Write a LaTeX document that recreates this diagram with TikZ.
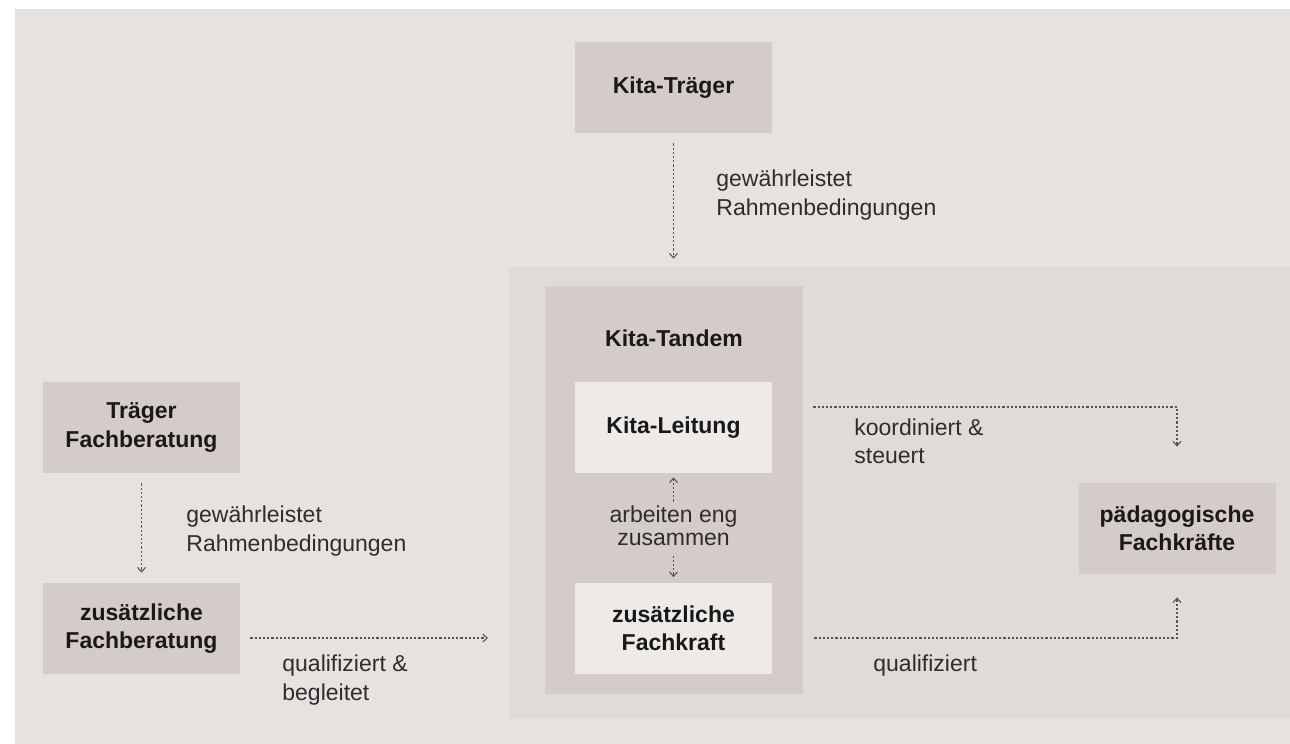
\documentclass[tikz,border=0pt]{standalone}
\usepackage{fontspec}
\setmainfont{Liberation Sans}
\usepackage{xcolor}
\usetikzlibrary{arrows.meta,positioning,calc}

\definecolor{hgHell}{RGB}{230,226,223}
\definecolor{hgMitte}{RGB}{223,219,216}
\definecolor{boxDunkel}{RGB}{213,204,202}
\definecolor{boxHell}{RGB}{237,234,232}
\definecolor{pfeilGrau}{RGB}{85,85,85}
\definecolor{textGrau}{RGB}{45,45,45}

\begin{document}
\begin{tikzpicture}[x=0.5pt,y=0.5pt,yscale=-1,xscale=1,
  fett/.style={inner sep=0pt, align=center, font=\fontsize{11.5}{14.2}\selectfont\bfseries, text=black!90},
  kasten/.style={fett, fill=boxDunkel, minimum width=98.5pt, minimum height=45.5pt},
  kastenhell/.style={kasten, fill=boxHell},
  beschriftung/.style={inner sep=0pt, align=left, font=\fontsize{11.5}{14.2}\selectfont, text=textGrau},
  pfeil/.style={draw=pfeilGrau, line width=0.55pt, dash pattern=on 1.1pt off 1pt, -{Straight Barb[length=2.2pt,width=4pt]}}]
\useasboundingbox (0,0) rectangle (1290,744);

%Shape: Hintergrund
\fill[hgHell] (15,9) rectangle (1290,744);
%Shape: Bereich und Tandem
\node[fill=hgMitte, minimum width=390.5pt, minimum height=226pt, inner sep=0pt] (bereich) at (899.5,493) {};
\node[fill=boxDunkel, minimum width=129pt, minimum height=204pt, inner sep=0pt] (tandem) at (674,490) {};

% Kaesten
\node[kasten] (traeger) at (673.5,87.5) {Kita-Träger};
\node[fett] (tandemtitel) at (674,338) {Kita-Tandem};
\node[kastenhell] (leitung) at (673.5,427.5) {Kita-Leitung};
\node[kastenhell] (fachkraft) at (673.5,628) {zusätzliche\\Fachkraft};
\node[kasten] (paedfk) at (1177,528.5) {pädagogische\\Fachkräfte};
\node[kasten] (tfb) at (141.5,427.5) {Träger\\Fachberatung};
\node[kasten] (zfb) at (141.5,628.5) {zusätzliche\\Fachberatung};

% Text Node
\node[beschriftung, anchor=west] (rahmen1) at (716,195) {gewährleistet\\Rahmenbedingungen};
\node[beschriftung, anchor=west] (rahmen2) at (186,531) {gewährleistet\\Rahmenbedingungen};
\node[beschriftung, anchor=west] (koordtext) at (854,441) {koordiniert \&\\steuert};
\node[beschriftung, anchor=west] (qualbeg) at (282,680) {qualifiziert \&\\begleitet};
\node[beschriftung, anchor=base west] (qual) at (873,671.7) {qualifiziert};
\node[beschriftung, align=center, inner sep=2pt, font=\fontsize{11.5}{11.65}\selectfont] (zusammen) at (673.5,526) {arbeiten eng\\zusammen};

%Straight Lines
\coordinate (kline) at (0,407);
\coordinate (qline) at (0,638);
\coordinate (qende) at (488,638);
\draw[pfeil, shorten <=5pt, shorten >=4pt] (traeger.south) -- (traeger.south |- bereich.north);
\draw[pfeil, shorten <=5pt, shorten >=5pt] (tfb) -- (zfb);
\draw[pfeil, shorten <=5pt] (zfb.east |- qline) -- (qende);
\draw[pfeil, shorten >=2pt] (zusammen) -- (leitung);
\draw[pfeil, shorten <=2.5pt, shorten >=2.5pt] (zusammen) -- (fachkraft);
\draw[pfeil, shorten <=5pt, shorten >=18pt] (tandem.east |- kline) -| (paedfk.north);
\draw[pfeil, shorten <=5.5pt, shorten >=11.5pt] (tandem.east |- qline) -| (paedfk.south);

\end{tikzpicture}
\end{document}
